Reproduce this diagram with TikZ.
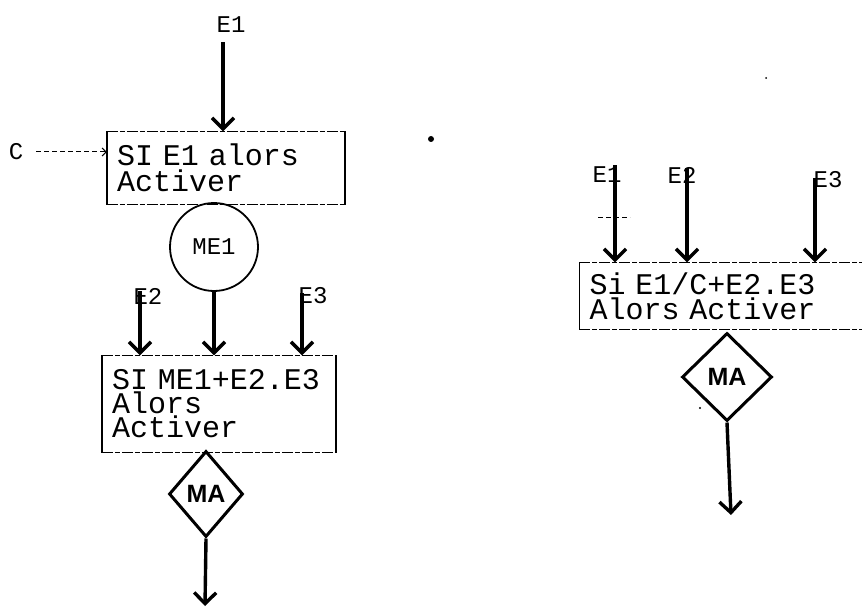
\documentclass[tikz,border=0pt]{standalone}
\usepackage{fontspec}
\usetikzlibrary{arrows.meta,positioning,shapes.geometric}
\newfontfamily\dotfont{Liberation Mono}
\newfontfamily\penfont{Liberation Sans}
\tikzset{
  cond/.style={inner xsep=10pt,inner ysep=0pt,align=left,font=\dotfont\fontsize{30}{25}\selectfont},
  side/.style={line width=1.6pt},
  edge/.style={line width=1.4pt,dash pattern=on 11pt off 2pt on 5pt off 2pt},
  mem/.style={circle,draw,line width=1.8pt,minimum size=88pt,inner sep=0pt,font=\dotfont\fontsize{24}{24}\selectfont},
  act/.style={diamond,draw,line width=3pt,inner sep=0pt,font=\penfont\bfseries\fontsize{25}{25}\selectfont},
  sig/.style={inner sep=1pt,font=\dotfont\fontsize{24}{24}\selectfont},
  flow/.style={-{Straight Barb[length=11pt,width=22pt]},line width=3.4pt},
  ctlline/.style={line width=1pt,dash pattern=on 5pt off 3pt}
}
\begin{document}
\begin{tikzpicture}[x=1pt,y=-1pt]
  \useasboundingbox (0,0) rectangle (862,607);
  % first chart
  \node[sig] (inA) at (231,25) {E1};
  \node[sig] (ctl) at (16,152) {C};
  \node[cond,text width=218pt,minimum height=73pt,font=\dotfont\fontsize{30}{26}\selectfont] (test) at (226,168) {SI E1 alors\\Activer};
  \draw[side] (test.north west) -- (test.south west) (test.north east) -- (test.south east);
  \draw[edge] (test.north west) -- (test.north east) (test.south west) -- (test.south east);
  \node[mem] (mem) at (214,247) {ME1};
  \node[sig] (inB) at (148,296) {E2};
  \node[sig] (inC) at (313,296) {E3};
  \node[cond,text width=214pt,minimum height=97pt,font=\dotfont\fontsize{30}{24}\selectfont] (sum) at (219,404) {SI ME1+E2.E3\\Alors\\Activer};
  \draw[side] (sum.north west) -- (sum.south west) (sum.north east) -- (sum.south east);
  \draw[edge] (sum.north west) -- (sum.north east) (sum.south west) -- (sum.south east);
  \node[act,minimum width=74pt,minimum height=86pt] (outA) at (206,494) {MA};
  \coordinate (tapB) at (140,291);
  \coordinate (tapC) at (302,293);
  \coordinate (endA) at (205,606);
  \draw[flow] ([xshift=-8pt,yshift=-8pt]inA.south) -- ([xshift=-3pt]test.north);
  \draw[ctlline,-{Straight Barb[length=4pt,width=8pt]}] ([xshift=12pt]ctl.east) -- (ctl -| test.west);
  \draw[flow] (mem.south) -- (mem.south |- sum.north);
  \draw[flow] (tapB) -- (tapB |- sum.north);
  \draw[flow] (tapC) -- (tapC |- sum.north);
  \draw[flow] (outA.south) -- (endA);
  % second chart
  \node[sig] (inD) at (607,175) {E1};
  \node[sig] (inE) at (682,175) {E2};
  \node[sig] (inF) at (828,180) {E3};
  \node[cond,text width=285pt,minimum height=67pt] (both) at (732,296) {Si E1/C+E2.E3\\Alors Activer};
  \draw[side] (both.north west) -- (both.south west);
  \draw[edge] (both.north west) -- (both.north east) (both.south west) -- (both.south east);
  \node[act,minimum width=90pt,minimum height=88pt] (outB) at (727,377) {MA};
  \coordinate (tapD) at (615,165);
  \coordinate (tapE) at (687,168);
  \coordinate (tapF) at (815,178);
  \coordinate (endB) at (731,515);
  \draw[flow] (tapD) -- (tapD |- both.north);
  \draw[flow] (tapE) -- (tapE |- both.north);
  \draw[flow] (tapF) -- (tapF |- both.north);
  \draw[ctlline] (598,217) -- (630,217);
  \draw[flow] (outB.south) -- (endB);
  % specks
  \fill (431,139) circle (3pt);
  \fill (766,78) circle (1pt);
  \fill (700,408) circle (1.2pt);
\end{tikzpicture}
\end{document}
